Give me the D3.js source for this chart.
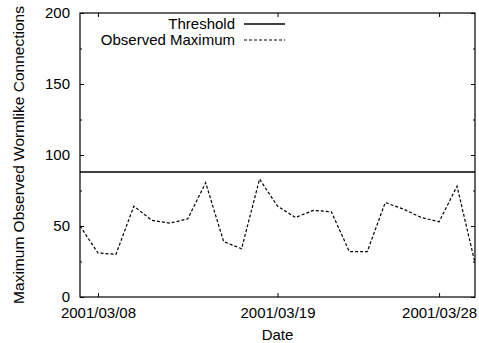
<!DOCTYPE html>
<html>
<head>
<meta charset="utf-8">
<script src="https://cdn.jsdelivr.net/npm/d3@7"></script>
<style>
  body { margin: 0; background: #fff; }
  svg { display: block; font-family: "Liberation Sans", Arial, sans-serif; }
</style>
</head>
<body>
<svg id="chart"></svg>
<script>
// observed maximum per day (index along the x axis)
const observed = [50, 31, 30, 64, 54, 52, 55, 80.5, 39, 34, 83, 64, 56, 61, 60, 32, 32, 66.5, 62, 56, 53, 78, 24];
const threshold = 88;

// x tick positions (data index) and their date labels
const dateTickIdx = [1, 11, 20];
const dateTickLabels = ["2001/03/08", "2001/03/19", "2001/03/28"];

const yMajorTicks = [0, 50, 100, 150, 200];
const yMinorTicks = [25, 75, 125, 175];

const seriesNames = ["Threshold", "Observed Maximum"];

const W = 479, H = 343;
const margin = { top: 13, right: 4, bottom: 46, left: 80 };
const width = W - margin.left - margin.right;
const height = H - margin.top - margin.bottom;
const fontSize = 15;

const svg = d3.select("#chart").attr("width", W).attr("height", H);
const g = svg.append("g").attr("transform", `translate(${margin.left},${margin.top})`);

const x = d3.scaleLinear().domain([0, observed.length - 1]).range([0, width]);
const y = d3.scaleLinear().domain([0, 200]).range([height, 0]);

// axes, ticks point inward like gnuplot
function styleAxis(sel) {
    sel.select(".domain").remove();
    sel.selectAll("line").attr("stroke", "#000");
    sel.selectAll("text").attr("fill", "#000").style("font-size", fontSize + "px").style("font-family", "Liberation Sans, Arial, sans-serif");
}

g.append("g")
    .call(d3.axisLeft(y).tickValues(yMajorTicks).tickSize(-4).tickPadding(10))
    .call(styleAxis);
g.append("g")
    .call(d3.axisLeft(y).tickValues(yMinorTicks).tickSize(-2).tickFormat(""))
    .call(styleAxis);
g.append("g")
    .attr("transform", `translate(${width},0)`)
    .call(d3.axisRight(y).tickValues(yMajorTicks).tickSize(-4).tickFormat(""))
    .call(styleAxis);
g.append("g")
    .attr("transform", `translate(${width},0)`)
    .call(d3.axisRight(y).tickValues(yMinorTicks).tickSize(-2).tickFormat(""))
    .call(styleAxis);
g.append("g")
    .attr("transform", `translate(0,${height})`)
    .call(d3.axisBottom(x).tickValues(dateTickIdx).tickSize(-4).tickPadding(10)
        .tickFormat((d, i) => dateTickLabels[i]))
    .call(styleAxis);
g.append("g")
    .call(d3.axisTop(x).tickValues(dateTickIdx).tickSize(-4).tickFormat(""))
    .call(styleAxis);

// frame
g.append("rect")
    .attr("width", width)
    .attr("height", height)
    .attr("fill", "none")
    .attr("stroke", "#000")
    .attr("stroke-width", 1.2);

// threshold line
g.append("line")
    .attr("x1", x(0)).attr("x2", x(observed.length - 1))
    .attr("y1", y(threshold)).attr("y2", y(threshold))
    .attr("stroke", "#000")
    .attr("stroke-width", 1.5);

// observed maximum
const line = d3.line().x((d, i) => x(i)).y(d => y(d));
g.append("path")
    .datum(observed)
    .attr("fill", "none")
    .attr("stroke", "#000")
    .attr("stroke-width", 1.2)
    .attr("stroke-dasharray", "3,2")
    .attr("d", line);

// legend
const legend = svg.append("g").attr("transform", "translate(235,24)");
seriesNames.forEach((name, i) => {
    const row = legend.append("g").attr("transform", `translate(0,${i * 16})`);
    row.append("text")
        .attr("text-anchor", "end")
        .attr("dy", "0.35em")
        .style("font-size", fontSize + "px")
        .text(name);
    row.append("line")
        .attr("x1", 9).attr("x2", 50)
        .attr("stroke", "#000")
        .attr("stroke-width", i === 0 ? 1.5 : 1.2)
        .attr("stroke-dasharray", i === 0 ? null : "3,2");
});

// axis titles
svg.append("text")
    .attr("text-anchor", "middle")
    .attr("transform", `translate(${margin.left + width / 2},${H - 3})`)
    .style("font-size", fontSize + "px")
    .text("Date");

svg.append("text")
    .attr("text-anchor", "middle")
    .attr("transform", `translate(24,${margin.top + height / 2}) rotate(-90)`)
    .style("font-size", "15.5px")
    .text("Maximum Observed Wormlike Connections");
</script>
</body>
</html>
